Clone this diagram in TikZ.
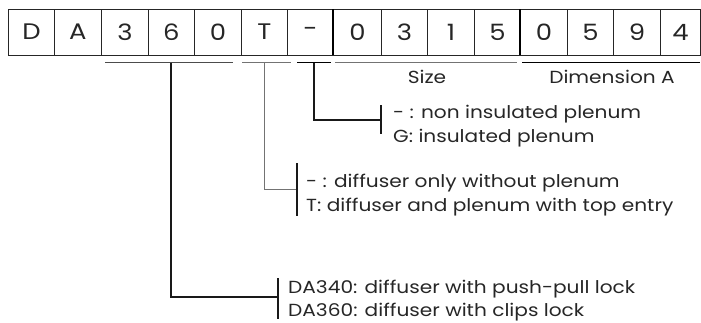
\documentclass[tikz,border=0pt]{standalone}
\usepackage{fontspec}
\setmainfont{Poppins}
\newcommand{\wide}[1]{\scalebox{1.15}[1]{#1}}
\begin{document}
\begin{tikzpicture}[x=1pt,y=-1pt,
  cell/.style={draw=black!85,line width=0.8pt,minimum height=46pt,inner sep=0pt,anchor=west,font=\fontsize{22.5}{22.5}\selectfont,text=black!85},
  lbl/.style={anchor=base west,inner sep=0pt,font=\fontsize{17.5}{17.5}\selectfont,text=black!85},
  thin/.style={draw=black!55,line width=0.9pt},
  thick/.style={draw=black,line width=1.6pt},
  conn/.style={draw=black!90,line width=1.3pt},
  gconn/.style={draw=black!55,line width=0.9pt},
  brk/.style={draw=black!90,line width=1.1pt}]
\useasboundingbox (0,0) rectangle (701,322);
% cells
\foreach \l/\r/\t/\n in {8/54/D/c1,54/101/A/c2,101/148/3/c3,148/194/6/c4,194/241/0/c5,241/287/T/c6,287/333/-/c7,333/381/0/c8,381/427/3/c9,427/474/1/c10,474/520/5/c11,520/567/0/c12,567/613/5/c13,613/660/9/c14,660/700/4/c15}
  \node[cell,minimum width={\r-\l}] (\n) at (\l,32) {\wide{\t}};
\draw[line width=2.6pt] (333,9) -- (333,55);
\draw[line width=2.6pt] (520,9) -- (520,55);
% underlines
\coordinate (u1a) at (105,62.5); \coordinate (u1b) at (233,62.5);
\coordinate (u2a) at (242,62.5); \coordinate (u2b) at (291,62.5);
\coordinate (u3a) at (297,62.5); \coordinate (u3b) at (331,62.5);
\coordinate (u4a) at (335,62.5); \coordinate (u4b) at (517,62.5);
\coordinate (u5a) at (522,62.5); \coordinate (u5b) at (700,62.5);
\draw[draw=black!70,line width=1.1pt] (u1a) -- (u1b);
\draw[thin] (u2a) -- (u2b);
\draw[thick] (u3a) -- (u3b);
\draw[thin] (u4a) -- (u4b);
\draw[thick] (u5a) -- (u5b);
\node[anchor=base,inner sep=0pt,font=\fontsize{17.5}{17.5}\selectfont,text=black!85] (size) at (427,83) {\wide{Size}};
\node[anchor=base,inner sep=0pt,font=\fontsize{17.5}{17.5}\selectfont,text=black!85] (dima) at (612,83) {\wide{Dimension A}};
% brackets and labels
\coordinate (t3) at (314,62.5); \coordinate (b3) at (381,120);
\draw[conn] (t3) |- (b3);
\draw[brk] (381,105) -- (381,134);
\node[lbl] (l3a) at (393,118) {\wide{- : non insulated plenum}};
\node[lbl] (l3b) at (393,142) {\wide{G: insulated plenum}};

\coordinate (t2) at (264,62.5); \coordinate (b2) at (297,189);
\draw[gconn] (t2) |- (b2);
\draw[brk] (297,163) -- (297,216);
\node[lbl] (l2a) at (306,187) {\wide{- : diffuser only without plenum}};
\node[lbl] (l2b) at (306,211) {\wide{T: diffuser and plenum with top entry}};

\coordinate (t1) at (171,62.5); \coordinate (b1) at (278,297);
\draw[conn] (t1) |- (b1);
\draw[brk] (278,278) -- (278,319);
\node[lbl] (l1a) at (288,293) {\wide{DA340: diffuser with push-pull lock}};
\node[lbl] (l1b) at (288,316) {\wide{DA360: diffuser with clips lock}};
\end{tikzpicture}
\end{document}
